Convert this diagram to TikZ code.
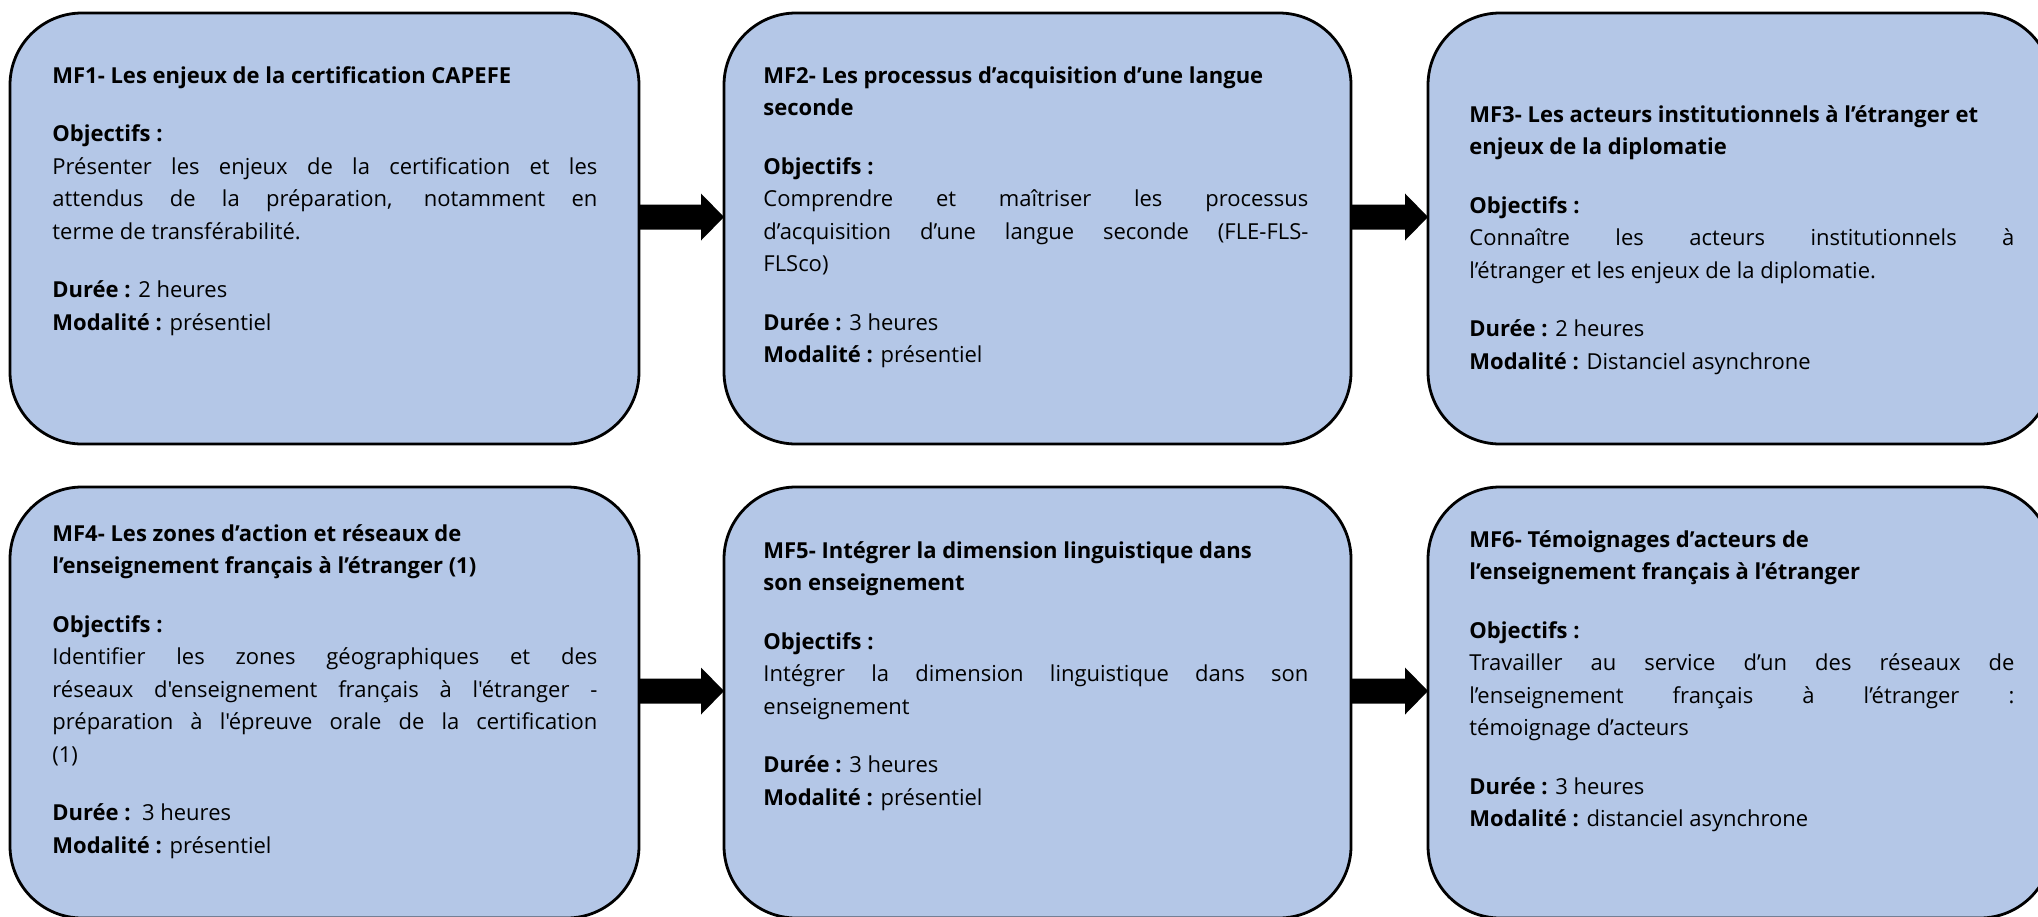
\documentclass[tikz,border=0pt]{standalone}
\usepackage{fontspec}
\newfontfamily\mfont{Open Sans}[Ligatures=NoCommon]
\usetikzlibrary{calc}
\definecolor{boxblue}{HTML}{B4C7E7}
\newcommand\flowarrow[2]{%
  \fill ($(#1.east)+(0,-24)$) -- ($(#2.west)+(-23,-24)$) -- ($(#2.west)+(-23,-35)$)
    -- ($(#2.west)+(0,-11.5)$) -- ($(#2.west)+(-23,12)$) -- ($(#2.west)+(-23,1)$)
    -- ($(#1.east)+(0,1)$) -- cycle;}
\newcommand\pgap{\par\vskip13pt}
\begin{document}
\begin{tikzpicture}[x=0.5pt,y=-0.5pt,
  modbox/.style={draw=black, line width=1.4pt, fill=boxblue, rounded corners=36pt,
    inner sep=0pt, outer sep=0pt, minimum height=215.5pt},
  txt/.style={anchor=north west, inner sep=0pt, text width=272.5pt, align=justify,
    font=\mfont\fontsize{11}{16.25}\selectfont}]
\useasboundingbox (0,0) rectangle (2038,916);
\clip (0,0) rectangle (2038,916);
% boxes
\node[modbox, minimum width=314.5pt] (b1) at (324.5,228.5) {};
\node[modbox, minimum width=313.5pt] (b2) at (1037.5,228.5) {};
\node[modbox, minimum width=312pt] (b3) at (1740,228.5) {};
\node[modbox, minimum width=314.5pt] (b4) at (324.5,702.5) {};
\node[modbox, minimum width=313.5pt] (b5) at (1037.5,702.5) {};
\node[modbox, minimum width=312pt] (b6) at (1740,702.5) {};
% texts
\node[txt] (t1) at ($(b1.north west)+(42,47)$) {\tolerance=10000\parindent=0pt\strut
  \textbf{MF1- Les enjeux de la certification CAPEFE}\pgap
  \textbf{Objectifs :}\newline
  Présenter les enjeux de la certification et les\linebreak
  attendus de la préparation, notamment en\linebreak
  terme de transférabilité.\pgap
  \textbf{Durée :} 2 heures\newline
  \textbf{Modalité :} présentiel};
\node[txt] (t2) at ($(b2.north west)+(39,47)$) {\tolerance=10000\parindent=0pt\strut
  \textbf{MF2- Les processus d’acquisition d’une langue\newline seconde}\pgap
  \textbf{Objectifs :}\newline
  Comprendre et maîtriser les processus\linebreak
  d’acquisition d’une langue seconde (FLE-FLS-\linebreak
  FLSco)\pgap
  \textbf{Durée :} 3 heures\newline
  \textbf{Modalité :} présentiel};
\node[txt] (t3) at ($(b3.north west)+(41,86)$) {\tolerance=10000\parindent=0pt\strut
  \textbf{MF3- Les acteurs institutionnels à l’étranger et\newline enjeux de la diplomatie}\pgap
  \textbf{Objectifs :}\newline
  Connaître les acteurs institutionnels à\linebreak
  l’étranger et les enjeux de la diplomatie.\pgap
  \textbf{Durée :} 2 heures\newline
  \textbf{Modalité :} Distanciel asynchrone};
\node[txt] (t4) at ($(b4.north west)+(42,31)$) {\tolerance=10000\parindent=0pt\strut
  \textbf{MF4- Les zones d’action et réseaux de\newline l’enseignement français à l’étranger (1)}\pgap
  \textbf{Objectifs :}\newline
  Identifier les zones géographiques et des\linebreak
  réseaux d'enseignement français à l'étranger -\linebreak
  préparation à l'épreuve orale de la certification\linebreak
  (1)\pgap
  \textbf{Durée :}\ \ 3 heures\newline
  \textbf{Modalité :} présentiel};
\node[txt] (t5) at ($(b5.north west)+(39,48)$) {\tolerance=10000\parindent=0pt\strut
  \textbf{MF5- Intégrer la dimension linguistique dans\newline son enseignement}\pgap
  \textbf{Objectifs :}\newline
  Intégrer la dimension linguistique dans son\linebreak
  enseignement\pgap
  \textbf{Durée :} 3 heures\newline
  \textbf{Modalité :} présentiel};
\node[txt] (t6) at ($(b6.north west)+(41,37)$) {\tolerance=10000\parindent=0pt\strut
  \textbf{MF6- Témoignages d’acteurs de\newline l’enseignement français à l’étranger}\pgap
  \textbf{Objectifs :}\newline
  Travailler au service d’un des réseaux de\linebreak
  l’enseignement français à l’étranger :\linebreak
  témoignage d’acteurs\pgap
  \textbf{Durée :} 3 heures\newline
  \textbf{Modalité :} distanciel asynchrone};
% arrows
\flowarrow{b1}{b2}
\flowarrow{b2}{b3}
\flowarrow{b4}{b5}
\flowarrow{b5}{b6}
\end{tikzpicture}
\end{document}
